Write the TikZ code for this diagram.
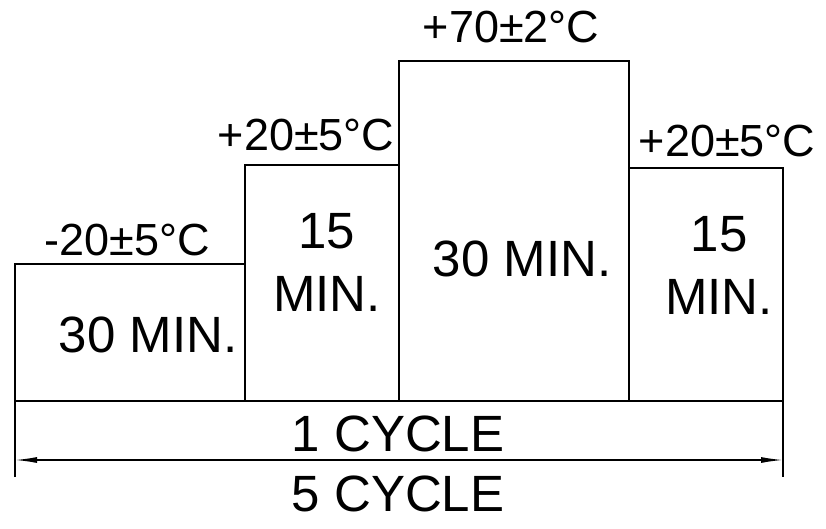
\documentclass[tikz,border=0pt]{standalone}
\usepackage{fontspec}
\setmainfont{Liberation Sans}
\usetikzlibrary{arrows.meta}
\tikzset{
  outline/.style={line width=2bp, line join=miter},
  temp/.style={inner sep=0pt, font=\fontsize{45bp}{50bp}\selectfont},
  dur/.style={inner sep=0pt, align=center, font=\fontsize{51bp}{63bp}\selectfont},
  cyc/.style={inner sep=0pt, font=\fontsize{51bp}{56bp}\selectfont},
  dim/.style={line width=1.4bp, {Latex[length=22bp,width=6bp]}-{Latex[length=22bp,width=6bp]}}
}
\begin{document}
\begin{tikzpicture}[x=1bp,y=-1bp]
\useasboundingbox (0,0) rectangle (826,529);
% corner coordinates
\coordinate (L0) at (15,477);
\coordinate (A1) at (15,264);
\coordinate (A2) at (245,264);
\coordinate (B1) at (245,165);
\coordinate (B2) at (399,165);
\coordinate (C1) at (399,61);
\coordinate (C2) at (629,61);
\coordinate (D1) at (629,168);
\coordinate (D2) at (783,168);
\coordinate (R0) at (783,477);
\coordinate (BL) at (15,401);
\coordinate (BR) at (783,401);
\coordinate (S1) at (245,401);
\coordinate (S2) at (399,401);
\coordinate (S3) at (629,401);
\coordinate (AL) at (15,460);
\coordinate (AR) at (783,460);
% outline
\draw[outline] (L0) -- (A1) -- (A2) -- (B1) -- (B2) -- (C1) -- (C2) -- (D1) -- (D2) -- (R0);
\draw[outline] (BL) -- (BR);
\draw[outline] (A2) -- (S1);
\draw[outline] (B2) -- (S2);
\draw[outline] (D1) -- (S3);
% dimension arrow
\draw[dim] (AL) -- (AR);
% temperature labels
\node[temp] (t1) at (127,240) {-20±5°C};
\node[temp] (t2) at (306,135) {+20±5°C};
\node[temp] (t3) at (511,27) {+70±2°C};
\node[temp] (t4) at (727,141) {+20±5°C};
% durations
\node[dur] (d1) at (148,335) {30 MIN.};
\node[dur] (d2) at (327,262) {15\\MIN.};
\node[dur] (d3) at (522,259) {30 MIN.};
\node[dur] (d4) at (719,265) {15\\MIN.};
% cycles
\node[cyc] (c1) at (398,434) {1 CYCLE};
\node[cyc] (c5) at (398,494) {5 CYCLE};
\end{tikzpicture}
\end{document}
